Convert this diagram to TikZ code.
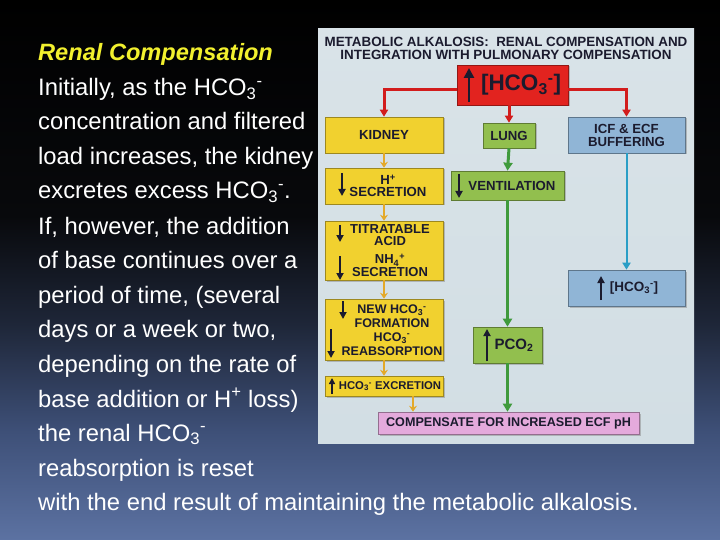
\documentclass[tikz,border=0pt]{standalone}
\usepackage{fontspec}
\setmainfont{Liberation Sans}
\usepackage{xcolor}
\usepackage{tikz}
\usetikzlibrary{arrows.meta,shadows,calc}
\definecolor{panelbg}{HTML}{D2DEE4}
\definecolor{paneltop}{HTML}{D9E3E8}
\definecolor{boxtext}{HTML}{1B1B2E}
\definecolor{headyellow}{HTML}{F2F02E}
\definecolor{ybox}{HTML}{F1D12F}
\definecolor{gbox}{HTML}{92BF4E}
\definecolor{bbox}{HTML}{90B5D6}
\definecolor{rbox}{HTML}{E2231F}
\definecolor{pbox}{HTML}{E4AADC}
\definecolor{redline}{HTML}{D21C1C}
\definecolor{yline}{HTML}{E3A92A}
\definecolor{gline}{HTML}{3F9A3C}
\definecolor{bline}{HTML}{2A9EC6}
\definecolor{bgbot}{HTML}{5C72A2}
\definecolor{bglow}{HTML}{3E5078}
\definecolor{bgmid}{HTML}{1E2638}
\definecolor{bgdark}{HTML}{08090C}
\pgfdeclareverticalshading{slidebg}{100bp}{color(0bp)=(bgbot); color(25bp)=(bgbot); color(35bp)=(bglow); color(45bp)=(bgmid); color(55bp)=(bgdark); color(75bp)=(black); color(100bp)=(black)}
\newcommand{\hcoion}{HCO\textsubscript{3}\textsuperscript{-}}

\begin{document}
\begin{tikzpicture}[x=1pt, y=-1pt,
  box/.style={draw=#1!65!black, fill=#1, line width=0.6pt, inner sep=0pt,
    align=center, text=boxtext, font=\fontsize{13.2}{13}\selectfont\bfseries,
    drop shadow={shadow xshift=1.5pt, shadow yshift=-1.5pt, opacity=0.45}},
  lbl/.style={inner sep=0pt, align=center, text=boxtext, font=\fontsize{13.2}{12}\selectfont\bfseries},
  glyph/.style={draw=boxtext, line width=2pt, -{Triangle[length=7pt,width=7pt]}},
  redarr/.style={draw=redline, line width=3pt, -{Triangle[length=7pt,width=8pt]}},
  yarr/.style={draw=yline, line width=2pt, -{Stealth[length=6pt,width=8pt]}},
  garr/.style={draw=gline, line width=3pt, -{Triangle[length=8pt,width=9pt]}},
  barr/.style={draw=bline, line width=2pt, -{Triangle[length=7pt,width=8pt]}},
  bodytext/.style={anchor=base west, inner sep=0pt, text=white, font=\fontsize{23.8}{26}\selectfont}]

  % slide background and panel
  \shade[shading=slidebg] (0,0) rectangle (720,540);
  \useasboundingbox (0,0) rectangle (720,540);
  \shade[top color=paneltop, bottom color=panelbg] (318,29) rectangle (694,443);

  % left text
  \node[bodytext, text=headyellow, font=\fontsize{23.6}{26}\selectfont\bfseries\itshape] (head) at (38,61) {Renal Compensation};
  \node[bodytext] (l1) at (38,96) {Initially, as the \hcoion};
  \node[bodytext] (l2) at (38,130) {concentration and filtered};
  \node[bodytext] (l3) at (38,165) {load increases, the kidney};
  \node[bodytext] (l4) at (38,199) {excretes excess \hcoion.};
  \node[bodytext] (l5) at (38,234) {If, however, the addition};
  \node[bodytext] (l6) at (38,268) {of base continues over a};
  \node[bodytext] (l7) at (38,303) {period of time, (several};
  \node[bodytext] (l8) at (38,337) {days or a week or two,};
  \node[bodytext] (l9) at (38,372) {depending on the rate of};
  \node[bodytext] (l10) at (38,407) {base addition or H\textsuperscript{+} loss)};
  \node[bodytext] (l11) at (38,441) {the renal \hcoion};
  \node[bodytext] (l12) at (38,476) {reabsorption is reset};
  \node[bodytext] (l13) at (38,510) {with the end result of maintaining the metabolic alkalosis.};

  % title of the panel
  \node[lbl, font=\fontsize{13.4}{13}\selectfont\bfseries] (title) at (506,48)
    {METABOLIC ALKALOSIS:\ \ RENAL COMPENSATION AND\\INTEGRATION WITH PULMONARY COMPENSATION};

  % boxes
  \node[box=rbox, minimum width=111pt, minimum height=40pt] (hco) at (512.5,85) {};
  \node[lbl, font=\fontsize{22.5}{22}\selectfont\bfseries] (hco-t) at (521,85) {[\hcoion]};
  \node[box=ybox, minimum width=118pt, minimum height=36pt] (kid) at (384,135) {KIDNEY};
  \node[box=gbox, minimum width=52pt, minimum height=25pt] (lung) at (509,135.5) {LUNG};
  \node[box=bbox, minimum width=117pt, minimum height=36pt] (icf) at (626.5,135) {ICF \& ECF\\BUFFERING};
  \node[box=ybox, minimum width=118pt, minimum height=36pt] (hsec) at (384,186) {};
  \node[lbl] (hsec-t) at (388,186) {H\textsuperscript{+}\\SECRETION};
  \node[box=gbox, minimum width=113pt, minimum height=29pt] (vent) at (507.5,185.5) {};
  \node[lbl] (vent-t) at (512,185.5) {VENTILATION};
  \node[box=ybox, minimum width=118pt, minimum height=59pt] (titr) at (384,250.5) {};
  \node[lbl, font=\fontsize{13}{11.5}\selectfont\bfseries] (titr-t) at (390,251) {TITRATABLE\\ACID\\[7pt]NH\textsubscript{4}\textsuperscript{+}\\[1.5pt]SECRETION};
  \node[box=bbox, minimum width=117pt, minimum height=36pt] (bhco) at (626.5,288) {};
  \node[lbl, font=\fontsize{13.5}{13}\selectfont\bfseries] (bhco-t) at (634,288) {[\hcoion]};
  \node[box=ybox, minimum width=118pt, minimum height=61pt] (newh) at (384,329.5) {};
  \node[lbl, font=\fontsize{12.5}{13.8}\selectfont\bfseries] (newh-t) at (392,330) {NEW \hcoion\\FORMATION\\\hcoion\\REABSORPTION};
  \node[box=gbox, minimum width=69pt, minimum height=36pt] (pco) at (507.5,345) {};
  \node[lbl, font=\fontsize{15}{15}\selectfont\bfseries] (pco-t) at (514,345) {PCO\textsubscript{2}};
  \node[box=ybox, minimum width=118pt, minimum height=20pt] (exc) at (384,386) {};
  \node[lbl, font=\fontsize{11.3}{12}\selectfont\bfseries] (exc-t) at (390,386) {\hcoion\ EXCRETION};
  \node[box=pbox, minimum width=261pt, minimum height=22pt, font=\fontsize{12.6}{12}\selectfont\bfseries] (comp) at (508.5,423) {COMPENSATE FOR INCREASED ECF pH};

  % up and down marks inside the boxes
  \draw[glyph, line width=2.8pt, -{Triangle[length=10pt,width=10pt]}] (469,102) -- (469,68);
  \draw[glyph] (342,173) -- (342,196);
  \draw[glyph] (459,174) -- (459,198);
  \draw[glyph] (340,225) -- (340,242);
  \draw[glyph] (340,256) -- (340,280);
  \draw[glyph] (601,300) -- (601,276);
  \draw[glyph] (343,301) -- (343,319);
  \draw[glyph] (331,329) -- (331,358);
  \draw[glyph] (487,361) -- (487,329);
  \draw[glyph, line width=1.6pt, -{Triangle[length=6pt,width=6pt]}] (332,394) -- (332,378);

  % connectors
  \draw[redarr] ([yshift=-5pt]hco.west) -| (kid.north);
  \draw[redarr] ([yshift=-5pt]hco.east) -| (icf.north);
  \draw[redarr] (hco.south -| lung.north) -- (lung.north);
  \draw[yarr] (kid.south) -- (hsec.north);
  \draw[yarr] (hsec.south) -- (titr.north);
  \draw[yarr] (titr.south) -- (newh.north);
  \draw[yarr] (newh.south) -- (exc.north);
  \draw[yarr] ([xshift=29pt]exc.south) -- ([xshift=29pt]exc.south |- comp.north);
  \draw[garr] (lung.south) -- (vent.north);
  \draw[garr] (vent.south) -- (pco.north);
  \draw[garr] (pco.south) -- (pco.south |- comp.north);
  \draw[barr] (icf.south) -- (bhco.north);
\end{tikzpicture}
\end{document}
